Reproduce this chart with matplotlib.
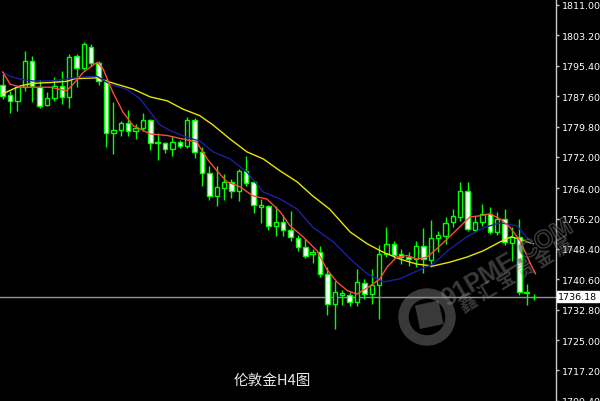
"""
伦敦金 H4 K线图（MT4 黑底绿线风格）复刻
"""
import matplotlib
matplotlib.use("Agg")
import matplotlib.pyplot as plt
import matplotlib.transforms as mtransforms
import matplotlib.patheffects as pe
from matplotlib.patches import Circle, Rectangle

# ---- 数据 ----
opens = [1790.5, 1788.0, 1786.3, 1790.0, 1796.7, 1790.0, 1785.4, 1787.1, 1790.3, 1787.3,
         1797.9, 1794.8, 1800.1, 1796.0, 1791.4, 1778.1, 1778.9, 1780.7, 1778.7, 1779.4,
         1781.4, 1775.5, 1775.5, 1774.0, 1775.8, 1774.7, 1781.4, 1773.3, 1767.8, 1761.9,
         1764.0, 1765.5, 1763.2, 1768.5, 1765.5, 1759.2, 1759.3, 1754.2, 1755.4, 1753.3,
         1751.2, 1749.0, 1747.0, 1747.7, 1742.0, 1734.3, 1736.6, 1736.6, 1734.7, 1739.6,
         1736.8, 1739.1, 1747.1, 1749.7, 1747.1, 1746.4, 1745.8, 1749.1, 1745.6, 1751.3,
         1751.8, 1755.2, 1756.5, 1763.3, 1753.3, 1755.4, 1757.4, 1752.7, 1756.1, 1749.9,
         1751.4, 1737.0, 1736.0]
highs = [1793.3, 1789.0, 1790.5, 1799.3, 1798.0, 1791.8, 1788.7, 1792.5, 1794.1, 1798.4,
         1798.4, 1801.6, 1801.0, 1796.6, 1792.0, 1786.2, 1781.3, 1784.1, 1780.5, 1783.2,
         1781.7, 1778.1, 1775.9, 1777.3, 1776.4, 1782.3, 1782.1, 1774.5, 1769.8, 1769.8,
         1767.6, 1766.3, 1768.9, 1772.3, 1765.9, 1761.2, 1759.7, 1759.5, 1757.1, 1758.0,
         1752.0, 1750.9, 1748.4, 1749.2, 1743.7, 1740.2, 1737.9, 1737.3, 1743.2, 1740.7,
         1743.2, 1749.4, 1753.9, 1750.5, 1748.4, 1747.7, 1750.5, 1753.7, 1755.9, 1753.0,
         1756.5, 1758.6, 1765.5, 1765.5, 1756.9, 1759.9, 1759.1, 1757.8, 1758.6, 1753.9,
         1756.1, 1739.4, 1736.8]
lows = [1786.9, 1783.2, 1783.7, 1788.9, 1786.0, 1784.6, 1785.2, 1786.4, 1785.6, 1784.6,
        1790.0, 1794.3, 1795.4, 1790.5, 1774.6, 1772.8, 1777.3, 1777.3, 1776.6, 1778.7,
        1773.9, 1771.2, 1772.9, 1772.3, 1774.3, 1774.2, 1771.7, 1764.6, 1761.0, 1759.5,
        1761.0, 1761.4, 1760.8, 1764.6, 1757.6, 1755.0, 1753.3, 1751.8, 1751.8, 1750.5,
        1747.9, 1746.0, 1744.7, 1741.3, 1731.4, 1727.8, 1734.0, 1733.7, 1733.8, 1735.5,
        1734.3, 1730.4, 1746.2, 1746.0, 1744.5, 1744.1, 1743.7, 1742.2, 1743.7, 1747.5,
        1749.7, 1753.9, 1755.6, 1753.1, 1752.7, 1754.4, 1752.2, 1752.0, 1749.4, 1745.4,
        1736.6, 1734.0, 1735.4]
closes = [1787.6, 1786.3, 1790.0, 1796.7, 1790.3, 1785.2, 1787.1, 1790.3, 1787.3, 1797.7,
          1794.8, 1801.0, 1796.0, 1791.4, 1778.1, 1778.9, 1780.7, 1778.7, 1779.4, 1781.4,
          1775.5, 1775.8, 1774.0, 1775.8, 1774.7, 1781.4, 1773.3, 1767.8, 1761.9, 1764.4,
          1765.5, 1763.2, 1768.5, 1765.3, 1759.7, 1759.7, 1754.2, 1755.4, 1753.3, 1751.5,
          1749.0, 1746.5, 1747.7, 1742.0, 1734.3, 1737.3, 1737.1, 1734.7, 1739.8, 1736.8,
          1739.1, 1747.1, 1749.7, 1746.8, 1746.2, 1745.8, 1749.1, 1745.8, 1751.1, 1752.0,
          1755.0, 1756.9, 1763.3, 1753.5, 1755.4, 1757.4, 1752.7, 1756.1, 1750.1, 1751.4,
          1737.3, 1737.4, 1736.18]

# 均线（按K线序号取样读数）
ma_fast_idx = [0, 1.0, 2.3, 4.1, 6.4, 8.7, 9.8, 10.9, 12.8, 13.6, 14.9, 16.3, 17.7, 20.0,
               22.3, 24.4, 25.4, 26.3, 27.7, 29.0, 30.4, 32.2, 33.9, 35.8, 37.6, 38.9,
               40.7, 42.6, 43.9, 45.3, 46.7, 48.0, 49.8, 51.1, 52.1, 53.4, 54.8, 56.1,
               57.5, 58.8, 60.2, 61.9, 63.3, 64.7, 66.0, 67.4, 68.7, 70.1, 71.4, 72.2]
ma_fast = [1793.8, 1790.7, 1789.9, 1789.9, 1789.9, 1789.0, 1791.2, 1793.7, 1796.3, 1794.6,
           1788.7, 1783.5, 1780.0, 1777.9, 1777.5, 1776.6, 1776.2, 1775.8, 1771.5, 1768.5,
           1765.6, 1764.3, 1762.0, 1761.2, 1757.9, 1754.4, 1751.5, 1747.9, 1743.2, 1739.9,
           1737.7, 1736.8, 1738.9, 1740.7, 1743.8, 1746.3, 1746.7, 1745.8, 1746.3, 1748.4,
           1750.9, 1754.0, 1756.6, 1756.9, 1757.4, 1756.1, 1754.0, 1750.5, 1745.0, 1742.0]
ma_mid_idx = [0, 1.0, 2.3, 4.1, 6.4, 8.7, 10.5, 12.8, 14.5, 16.8, 18.6, 20.0, 21.3, 23.1,
              25.0, 26.7, 28.5, 30.8, 33.1, 35.3, 37.6, 39.9, 42.0, 44.8, 47.1, 49.4,
              51.5, 53.8, 56.1, 58.3, 60.6, 62.9, 65.1, 67.4, 69.7, 71.9]
ma_mid = [1793.8, 1792.7, 1792.0, 1791.5, 1791.5, 1792.0, 1792.5, 1792.7, 1790.7, 1789.4,
          1786.9, 1783.5, 1780.2, 1778.4, 1777.0, 1776.1, 1773.3, 1771.5, 1768.1, 1763.0,
          1761.2, 1758.6, 1754.0, 1750.2, 1745.8, 1742.0, 1739.9, 1740.7, 1742.7, 1744.5,
          1748.4, 1751.5, 1753.8, 1755.1, 1754.3, 1749.4]
ma_slow_idx = [0, 2.3, 4.1, 6.4, 8.7, 9.8, 12.8, 14.5, 17.7, 20.0, 22.3, 24.4, 26.7, 28.5,
               30.8, 33.1, 35.3, 37.6, 39.9, 42.0, 44.3, 46.1, 47.1, 49.4, 51.5, 53.8,
               56.1, 58.3, 60.6, 62.9, 65.1, 67.4, 68.9, 70.1, 71.9]
ma_slow = [1788.2, 1790.2, 1790.9, 1791.1, 1791.4, 1792.1, 1792.3, 1791.2, 1789.4, 1787.4,
           1786.4, 1784.3, 1782.6, 1780.2, 1776.6, 1773.3, 1771.5, 1768.4, 1765.6, 1762.0,
           1758.6, 1754.8, 1752.7, 1749.7, 1747.6, 1745.8, 1744.5, 1744.0, 1745.0, 1746.3,
           1747.9, 1750.2, 1751.5, 1750.9, 1749.7]

last_price = 1736.18
tick_labels = ["1811.00", "1803.20", "1795.40", "1787.60", "1779.80", "1772.00", "1764.00",
               "1756.20", "1748.40", "1740.60", "1732.80", "1725.00", "1717.20", "1709.40"]
title = "伦敦金H4图"

GREEN = "#00ff00"
CJK = ["Noto Sans CJK SC", "DejaVu Sans"]

fig = plt.figure(figsize=(6.0, 4.02), dpi=100, facecolor="black")
ax = fig.add_axes([0, 0, 556 / 600, 1])
ax.set_facecolor("black")

n = len(opens)
idx = list(range(n))

# 影线
ax.vlines(idx, lows, highs, colors=GREEN, linewidth=1, zorder=2)

# 实体：阴线白色，阳线黑色，绿色边框
bottoms = [min(o, c) for o, c in zip(opens, closes)]
heights = [abs(c - o) for o, c in zip(opens, closes)]
fills = ["white" if c < o else "black" for o, c in zip(opens, closes)]
ax.bar(idx, heights, bottom=bottoms, width=0.6, color=fills,
       edgecolor=GREEN, linewidth=1, zorder=3)

# 均线
ax.plot(ma_slow_idx, ma_slow, color="#e6e600", linewidth=1, zorder=4)
ax.plot(ma_mid_idx, ma_mid, color="#1e1e9e", linewidth=1, zorder=4)
ax.plot(ma_fast_idx, ma_fast, color="#ff4a3a", linewidth=1, zorder=4)

# 现价线
ax.axhline(last_price, color="#8a94a6", linewidth=1, zorder=1)

ax.set_xlim(-0.366, 74.97)
ax.set_ylim(1709.36, 1812.54)

for side in ["top", "left", "bottom"]:
    ax.spines[side].set_visible(False)
ax.spines["right"].set_color("#c8c8c8")
ax.spines["right"].set_linewidth(1)
ax.set_xticks([])
ax.yaxis.tick_right()
ax.set_yticks([float(t) for t in tick_labels])
ax.set_yticklabels(tick_labels)
ax.tick_params(axis="y", colors="#c8c8c8", labelcolor="white", length=2.5,
               width=1, pad=2, labelsize=6.8)

# 右侧现价标签
trans = mtransforms.blended_transform_factory(ax.transAxes, ax.transData)
ax.text(1.004, last_price, f"{last_price:.2f}", transform=trans, color="black",
        fontsize=6.8, va="center", ha="left", clip_on=False,
        bbox=dict(boxstyle="square,pad=0.15", facecolor="white", edgecolor="white"))

# 水印（像素坐标 -> 英寸）
wm = "#8a8a8a"
wm_alpha = 0.42
px = fig.dpi_scale_trans


def at(x, y):
    return x / 100, (402 - y) / 100


ring = Circle(at(427, 318), 0.235, transform=px, fill=False, edgecolor=wm,
              linewidth=7.5, alpha=wm_alpha, zorder=10)
fig.patches.append(ring)
sq = Rectangle(at(420, 330), 0.24, 0.24, angle=12, transform=px,
               facecolor=wm, edgecolor="none", alpha=wm_alpha, zorder=10)
fig.patches.append(sq)

x0, y0 = at(447, 307)
fig.text(x0, y0, "91PME", transform=px, rotation=30.5, rotation_mode="anchor",
         ha="left", va="baseline", fontsize=18, fontweight="bold",
         family="Liberation Sans", color=wm, alpha=wm_alpha)
x1, y1 = at(518, 265)
fig.text(x1, y1, ".COM", transform=px, rotation=30.5, rotation_mode="anchor",
         ha="left", va="baseline", fontsize=18, fontweight="bold",
         family="Liberation Sans", color=(0, 0, 0, 0),
         path_effects=[pe.Stroke(linewidth=1.1, foreground=wm, alpha=wm_alpha)])
xc, yc = at(516, 276)
fig.text(xc, yc, "鑫 汇 宝 贵 金 属", transform=px, rotation=30.5,
         ha="center", va="center", rotation_mode="anchor", fontsize=13,
         fontweight="bold", family=CJK, color=wm, alpha=wm_alpha)

# 标题
fig.text(272 / 600, 1 - 381 / 402, title, color="#e8e8e8", fontsize=10.5,
         ha="center", va="center", family=CJK)

fig.savefig("out.png", dpi=100, facecolor="black")
